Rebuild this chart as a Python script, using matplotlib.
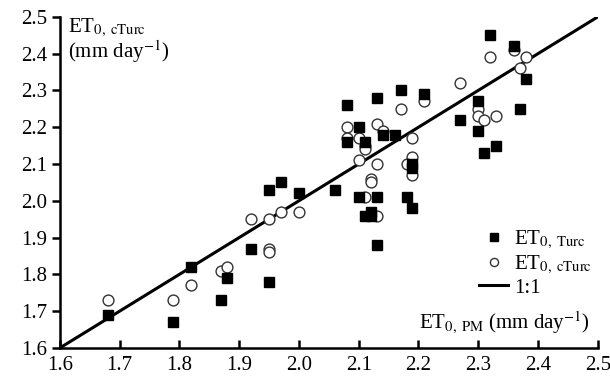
import matplotlib
matplotlib.use("Agg")
import matplotlib.pyplot as plt
import numpy as np

plt.rcParams['font.family'] = ['Liberation Serif', 'DejaVu Serif']
plt.rcParams['mathtext.fontset'] = 'stix'

turc_pm = [1.68, 1.79, 1.82, 1.87, 1.88, 1.92, 1.95, 1.97, 1.95, 2.00, 2.06, 2.08, 2.08,
           2.10, 2.11, 2.10, 2.13, 2.14, 2.16, 2.17, 2.21, 2.13, 2.18, 2.19, 2.19, 2.19,
           2.11, 2.12, 2.12, 2.13, 2.27, 2.30, 2.30, 2.31, 2.33, 2.32, 2.36, 2.37, 2.38]
turc_val = [1.69, 1.67, 1.82, 1.73, 1.79, 1.87, 2.03, 2.05, 1.78, 2.02, 2.03, 2.26, 2.16,
            2.20, 2.16, 2.01, 2.28, 2.18, 2.18, 2.30, 2.29, 2.01, 2.01, 2.10, 2.09, 1.98,
            1.96, 1.97, 1.96, 1.88, 2.22, 2.27, 2.19, 2.13, 2.15, 2.45, 2.42, 2.25, 2.33]

cturc_pm = [1.68, 1.79, 1.82, 1.87, 1.88, 1.92, 1.95, 1.95, 1.95, 1.97, 2.00, 2.08, 2.08,
            2.10, 2.11, 2.11, 2.10, 2.13, 2.14, 2.13, 2.17, 2.21, 2.19, 2.19, 2.18, 2.19,
            2.12, 2.12, 2.11, 2.13, 2.27, 2.30, 2.30, 2.31, 2.33, 2.32, 2.36, 2.38, 2.37]
cturc_val = [1.73, 1.73, 1.77, 1.81, 1.82, 1.95, 1.95, 1.87, 1.86, 1.97, 1.97, 2.20, 2.17,
             2.17, 2.15, 2.14, 2.11, 2.21, 2.19, 2.10, 2.25, 2.27, 2.17, 2.12, 2.10, 2.07,
             2.06, 2.05, 2.01, 1.96, 2.32, 2.25, 2.23, 2.22, 2.23, 2.39, 2.41, 2.39, 2.36]

ticks = [1.6, 1.7, 1.8, 1.9, 2.0, 2.1, 2.2, 2.3, 2.4, 2.5]
one_to_one = [1.6, 2.5]

fig = plt.figure(figsize=(6.1, 3.83), dpi=100)
ax = fig.add_axes([0.098, 0.0914, 0.882, 0.8646])

ax.plot(one_to_one, one_to_one, color='black', lw=2.2, label='1:1', zorder=1)
ax.plot(turc_pm, turc_val, ls='none', marker='s', ms=7.8, mfc='black', mec='black',
        label=r'ET$_{0,\ \mathrm{Turc}}$', zorder=3)
ax.plot(cturc_pm, cturc_val, ls='none', marker='o', ms=7.8, mfc='white', mec='#333333',
        mew=1.0, label=r'ET$_{0,\ \mathrm{cTurc}}$', zorder=2)

ax.set_xlim(1.6, 2.5)
ax.set_ylim(1.6, 2.5)
ax.set_xticks(ticks)
ax.set_yticks(ticks)
ax.set_xticklabels([f'{t:.1f}' for t in ticks])
ax.set_yticklabels([f'{t:.1f}' for t in ticks])
for s in ['top', 'right']:
    ax.spines[s].set_visible(False)
for s in ['left', 'bottom']:
    ax.spines[s].set_linewidth(1.8)
ax.tick_params(axis='y', direction='out', length=6, width=1.8, labelsize=15, pad=3)
ax.tick_params(axis='x', direction='in', length=6, width=1.8, labelsize=15, pad=6)

ax.text(0.015, 1.0, r'ET$_{0,\ \mathrm{cTurc}}$', transform=ax.transAxes,
        fontsize=15, va='top', ha='left')
ax.text(0.015, 0.935, r'(mm day$^{-1}$)', transform=ax.transAxes,
        fontsize=15, va='top', ha='left')
ax.text(0.985, 0.035, r'ET$_{0,\ \mathrm{PM}}$ (mm day$^{-1}$)', transform=ax.transAxes,
        fontsize=15, va='bottom', ha='right')

h, l = ax.get_legend_handles_labels()
order = [1, 2, 0]
leg = ax.legend([h[i] for i in order], [l[i] for i in order], loc='lower right',
                bbox_to_anchor=(1.025, 0.095), frameon=False, fontsize=15,
                handlelength=1.4, handletextpad=0.3, labelspacing=0.12, markerscale=0.75)

fig.savefig('out.png', dpi=100)
